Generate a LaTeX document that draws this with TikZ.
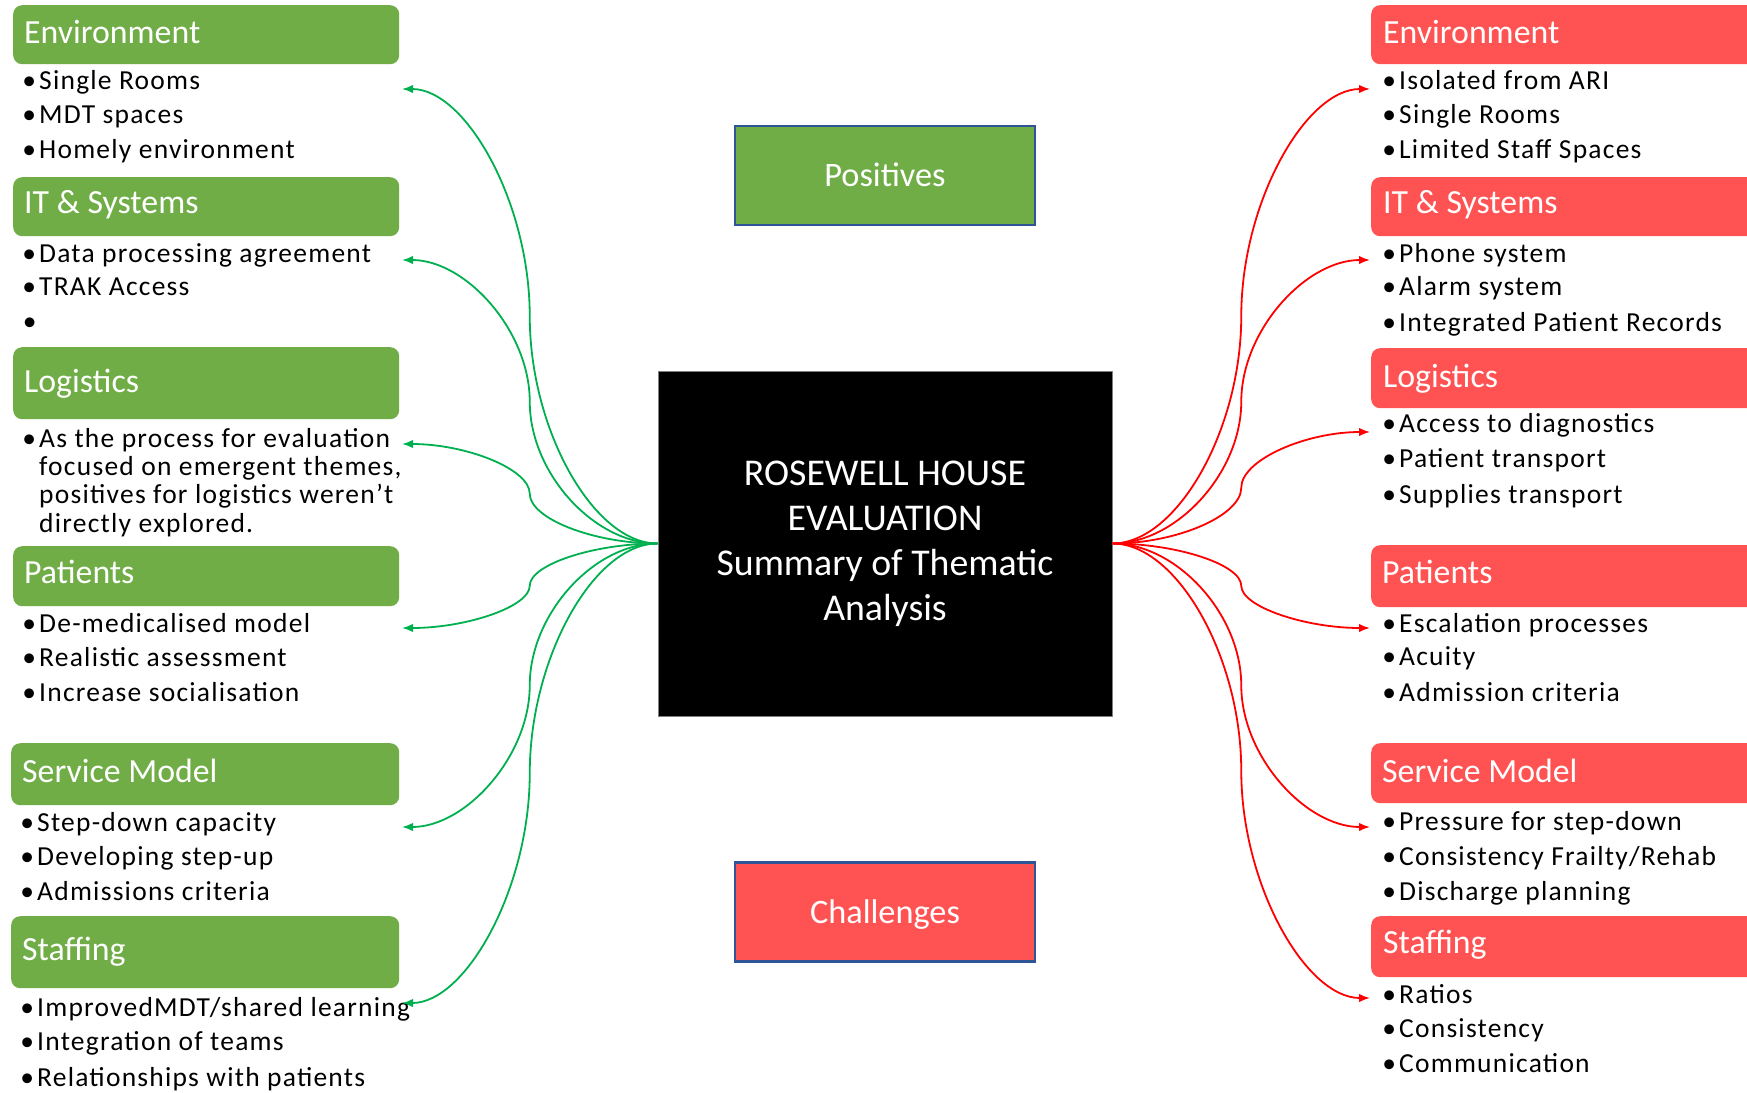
\documentclass[tikz,border=0pt]{standalone}
\usepackage{fontspec}
\setmainfont{Carlito}
\newfontfamily\spacedfont[LetterSpace=4.5]{Carlito}
\usetikzlibrary{calc,arrows.meta}

\definecolor{posgreen}{HTML}{70AD47}
\definecolor{negred}{HTML}{FF5353}
\definecolor{linkgreen}{HTML}{00B050}
\definecolor{linkred}{HTML}{FF0000}
\definecolor{frameblue}{HTML}{2F5597}
\definecolor{framegray}{HTML}{7F7F7F}

\newcommand{\bul}{\makebox[0pt][c]{•}\hspace{10pt}}

\tikzset{
  x=1pt, y=-1pt,
  hdrbox/.style={rectangle, rounded corners=9pt, inner sep=0pt, anchor=north west},
  hdrtext/.style={anchor=base west, inner sep=0pt, text=white,
    font=\fontsize{33.8}{40}\selectfont},
  item/.style={anchor=base west, inner sep=0pt, text=black,
    font=\spacedfont\fontsize{27.5}{33}\selectfont},
  titlebox/.style={rectangle, draw=frameblue, line width=2.5pt, inner sep=0pt,
    minimum width=300pt, minimum height=99pt, text=white,
    text height=22pt, text depth=0pt,
    font=\fontsize{34.3}{40}\selectfont},
  elbowcurve/.style={to path={
    let \p1=(\tikztostart), \p2=(\tikztotarget) in
    .. controls ({(3*\x1+\x2)/4},\y1) and ({(\x1+\x2)/2},{(3*\y1+\y2)/4})
    .. ({(\x1+\x2)/2},{(\y1+\y2)/2})
    .. controls ({(\x1+\x2)/2},{(\y1+3*\y2)/4}) and ({(\x1+3*\x2)/4},\y2)
    .. (\tikztotarget)}},
  glink/.style={draw=linkgreen, line width=1.8pt,
    -{Latex[length=11pt,width=8.5pt]}},
  rlink/.style={draw=linkred, line width=1.8pt,
    -{Latex[length=11pt,width=8.5pt]}},
}

\begin{document}
\begin{tikzpicture}
\useasboundingbox (0,0) rectangle (1747,1092);
\clip (0,0) rectangle (1747,1092);
\fill[white] (0,0) rectangle (1747,1092);

% ---------- centre ----------
\node[rectangle, fill=black, draw=framegray, line width=1pt,
      minimum width=454pt, minimum height=345pt, inner sep=0pt,
      text=white, align=center,
      font=\fontsize{37.8}{45}\selectfont] (ctr) at (885,543.5)
  {ROSEWELL HOUSE\\EVALUATION\\Summary of Thematic\\Analysis};

\node[titlebox, fill=posgreen] (pos) at (885,175.5) {Positives};
\node[titlebox, fill=negred] (neg) at (885,912) {Challenges};

% ---------- positives (left) ----------
\node[hdrbox, fill=posgreen, minimum width=386pt, minimum height=59pt] (gH1) at (13,5) {};
\node[hdrbox, fill=posgreen, minimum width=386pt, minimum height=59pt] (gH2) at (13,177) {};
\node[hdrbox, fill=posgreen, minimum width=386pt, minimum height=72pt] (gH3) at (13,347) {};
\node[hdrbox, fill=posgreen, minimum width=386pt, minimum height=60pt] (gH4) at (13,546) {};
\node[hdrbox, fill=posgreen, minimum width=388pt, minimum height=62pt] (gH5) at (11,743) {};
\node[hdrbox, fill=posgreen, minimum width=388pt, minimum height=72pt] (gH6) at (11,916) {};

\node[hdrtext] (gL1) at (24,43) {Environment};
\node[hdrtext] (gL2) at (24,213) {IT \& Systems};
\node[hdrtext] (gL3) at (24,392) {Logistics};
\node[hdrtext] (gL4) at (24,583) {Patients};
\node[hdrtext] (gL5) at (22,782) {Service Model};
\node[hdrtext] (gL6) at (22,960) {Staffing};

\foreach \y/\t [count=\i] in {89/{Single Rooms}, 123/{MDT spaces}, 158/{Homely environment}}
  \node[item] (gA\i) at (29,\y) {\bul\t};
\foreach \y/\t [count=\i] in {262/{Data processing agreement}, 295/{TRAK Access}, 330/{}}
  \node[item] (gB\i) at (29,\y) {\bul\t};
\node[item] (gC1) at (29,447) {\bul As the process for evaluation};
\node[item] (gC2) at (39,475) {focused on emergent themes,};
\node[item] (gC3) at (39,503) {positives for logistics weren’t};
\node[item] (gC4) at (39,532) {directly explored.};
\foreach \y/\t [count=\i] in {632/{De-medicalised model}, 666/{Realistic assessment}, 701/{Increase socialisation}}
  \node[item] (gD\i) at (29,\y) {\bul\t};
\foreach \y/\t [count=\i] in {831/{Step-down capacity}, 865/{Developing step-up}, 900/{Admissions criteria}}
  \node[item] (gE\i) at (27,\y) {\bul\t};
\foreach \y/\t [count=\i] in {1016/{Improved\hspace{1pt}MDT/shared learning}, 1050/{Integration of teams}, 1086/{Relationships with patients}}
  \node[item] (gF\i) at (27,\y) {\bul\t};

% ---------- challenges (right) ----------
\node[hdrbox, fill=negred, minimum width=400pt, minimum height=59pt] (rH1) at (1371,5) {};
\node[hdrbox, fill=negred, minimum width=400pt, minimum height=59pt] (rH2) at (1371,177) {};
\node[hdrbox, fill=negred, minimum width=400pt, minimum height=60pt] (rH3) at (1371,348) {};
\node[hdrbox, fill=negred, minimum width=400pt, minimum height=62pt] (rH4) at (1371,545) {};
\node[hdrbox, fill=negred, minimum width=400pt, minimum height=60pt] (rH5) at (1371,743) {};
\node[hdrbox, fill=negred, minimum width=400pt, minimum height=61pt] (rH6) at (1371,916) {};

\node[hdrtext] (rL1) at (1383,43) {Environment};
\node[hdrtext] (rL2) at (1383,213) {IT \& Systems};
\node[hdrtext] (rL3) at (1383,387) {Logistics};
\node[hdrtext] (rL4) at (1382,583) {Patients};
\node[hdrtext] (rL5) at (1382,782) {Service Model};
\node[hdrtext] (rL6) at (1383,953) {Staffing};

\foreach \y/\t [count=\i] in {89/{Isolated from ARI}, 123/{Single Rooms}, 158/{Limited Staff Spaces}}
  \node[item] (rA\i) at (1389,\y) {\bul\t};
\foreach \y/\t [count=\i] in {262/{Phone system}, 295/{Alarm system}, 331/{Integrated Patient Records}}
  \node[item] (rB\i) at (1389,\y) {\bul\t};
\foreach \y/\t [count=\i] in {432/{Access to diagnostics}, 467/{Patient transport}, 503/{Supplies transport}}
  \node[item] (rC\i) at (1389,\y) {\bul\t};
\foreach \y/\t [count=\i] in {632/{Escalation processes}, 665/{Acuity}, 701/{Admission criteria}}
  \node[item] (rD\i) at (1389,\y) {\bul\t};
\foreach \y/\t [count=\i] in {830/{Pressure for step-down}, 865/{Consistency Frailty/Rehab}, 900/{Discharge planning}}
  \node[item] (rE\i) at (1389,\y) {\bul\t};
\foreach \y/\t [count=\i] in {1003/{Ratios}, 1037/{Consistency}, 1072/{Communication}}
  \node[item] (rF\i) at (1389,\y) {\bul\t};

% ---------- connector ends ----------
\coordinate (gT1) at (402,89);
\coordinate (gT2) at (402,260);
\coordinate (gT3) at (402,444);
\coordinate (gT4) at (402,628);
\coordinate (gT5) at (402,827);
\coordinate (gT6) at (402,1003);
\coordinate (rT1) at (1370,89);
\coordinate (rT2) at (1370,260);
\coordinate (rT3) at (1370,432);
\coordinate (rT4) at (1370,628);
\coordinate (rT5) at (1370,827);
\coordinate (rT6) at (1370,998);

\foreach \i in {1,...,6} {
  \draw[glink] (ctr.west) to[elbowcurve] (gT\i);
  \draw[rlink] (ctr.east) to[elbowcurve] (rT\i);
}
\end{tikzpicture}
\end{document}
